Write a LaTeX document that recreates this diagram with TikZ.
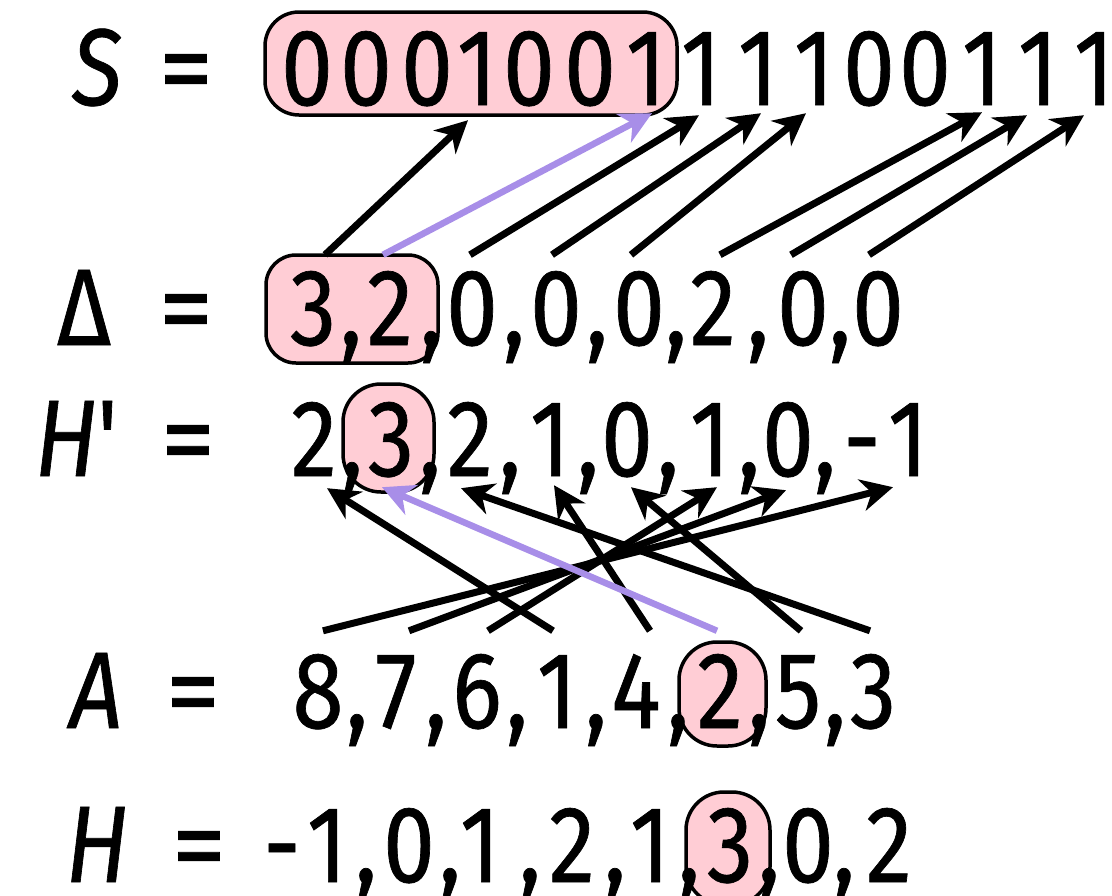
\documentclass[tikz,border=0pt]{standalone}
\usepackage{fontspec}
\setmainfont{Fira Sans}[FakeStretch=0.85,FakeBold=0.6]
\newfontfamily\eqfont{Fira Sans}[FakeBold=0.8]
\usetikzlibrary{arrows.meta,calc}
\definecolor{hlpink}{RGB}{255,205,213}
\definecolor{hlpurple}{RGB}{168,142,232}
\begin{document}
\begin{tikzpicture}[x=1pt,y=-1pt,
  dg/.style={font=\fontsize{109}{112}\selectfont, inner sep=0pt, anchor=base, text height=75pt, text depth=0pt},
  lb/.style={dg, font=\fontsize{109}{112}\selectfont\itshape},
  eqs/.style={dg, font=\fontsize{109}{112}\selectfont\eqfont},
  hibox/.style={draw=black, line width=3.5pt, fill=hlpink, rounded corners=#1, inner sep=0pt},
  hibox/.default=34pt,
  arr/.style={line width=7pt, -{Stealth[length=32pt,width=32pt,inset=10pt]}},
  parr/.style={line width=6.5pt, draw=hlpurple, -{Stealth[length=32pt,width=32pt,inset=10pt,fill=hlpurple]}}
]
\useasboundingbox (0,0) rectangle (1112,895);
\clip (0,0) rectangle (1112,895);
\fill[white] (0,0) rectangle (1112,895);

% highlight boxes
\node[hibox=34pt, minimum width=412pt, minimum height=103pt] (boxS) at (471,63.5) {};
\node[hibox=30pt, minimum width=172pt, minimum height=108pt] (boxD) at (352,309) {};
\node[hibox=38pt, minimum width=91pt, minimum height=108pt] (boxHp) at (388.5,438) {};
\node[hibox=38pt, minimum width=87pt, minimum height=104pt] (boxA) at (722.5,694) {};
\node[hibox=38pt, minimum width=84pt, minimum height=113pt] (boxH) at (728,848.5) {};

% row S
\node[lb] (lS) at (97,105) {S};
\node[eqs] (eqS) at (186,105) {=};
\foreach \n/\x/\t in {1/307/0,2/366/0,3/427/0,4/477/1,5/529/0,6/590/0,7/646/1,8/701/1,9/758/1,10/814/1,11/869/0,12/925/0,13/982/1,14/1038/1,15/1094/1}
  \node[dg] (s\n) at (\x,105) {\t};

% row Delta
\node[dg] (lD) at (84,345) {Δ};
\node[eqs] (eqD) at (186,345) {=};
\foreach \n/\x/\t in {1/313/3,2/390/2,3/472/0,4/556/0,5/639/0,6/713/2,7/803/0,8/878/0}
  \node[dg] (d\n) at (\x,345) {\t};
\foreach \n/\x in {1/351,2/431,3/514,4/597,5/676,6/758,7/840}
  \node[dg] (dc\n) at (\x,345) {,};

% row H'
\node[dg] (lHp) at (78,476) {\textit{H}\textquotesingle};
\node[eqs] (eqHp) at (188,476) {=};
\foreach \n/\x/\t in {1/314/2,2/391/3,3/470/2,4/550/1,5/627/0,6/710/1,7/788/0,8/908/1}
  \node[dg] (hp\n) at (\x,476) {\t};
\node[dg] (hpm) at (862,476) {-};
\foreach \n/\x in {1/352,2/430,3/510,4/588,5/668,6/749,7/825}
  \node[dg] (hpc\n) at (\x,476) {,};

% row A
\node[lb] (lA) at (96,728) {A};
\node[eqs] (eqA) at (193,728) {=};
\foreach \n/\x/\t in {1/318/8,2/396/7,3/477/6,4/557/1,5/636/4,6/720/2,7/798/5,8/873/3}
  \node[dg] (a\n) at (\x,728) {\t};
\foreach \n/\x in {1/357,2/436,3/517,4/596,5/678,6/759,7/835}
  \node[dg] (ac\n) at (\x,728) {,};

% row H
\node[lb] (lH) at (97,882) {H};
\node[eqs] (eqH) at (199,882) {=};
\node[dg] (hm) at (282,882) {-};
\foreach \n/\x/\t in {1/327/1,2/409/0,3/480/1,4/572/2,5/650/1,6/730/3,7/808/0,8/889/2}
  \node[dg] (h\n) at (\x,882) {\t};
\foreach \n/\x in {1/366,2/450,3/530,4/615,5/689,6/769,7/844}
  \node[dg] (hc\n) at (\x,882) {,};

% Delta -> S
\draw[arr] ([xshift=12pt,yshift=15pt]d1.north) -- ([xshift=-9pt,yshift=-15pt]s4.south);
\draw[arr] ([xshift=-2pt,yshift=15pt]d3.north) -- ([xshift=-2pt,yshift=-10pt]s8.south);
\draw[arr] ([xshift=-4pt,yshift=15pt]d4.north) -- ([xshift=3pt,yshift=-8pt]s9.south);
\draw[arr] ([xshift=-8pt,yshift=15pt]d5.north) -- ([xshift=-8pt,yshift=-8pt]s10.south);
\draw[arr] ([xshift=7pt,yshift=15pt]d6.north) -- ([xshift=0pt,yshift=-7pt]s13.south);
\draw[arr] ([xshift=-12pt,yshift=15pt]d7.north) -- ([xshift=-11pt,yshift=-10pt]s14.south);
\draw[arr] ([xshift=-9pt,yshift=15pt]d8.north) -- ([xshift=-10pt,yshift=-10pt]s15.south);
\draw[parr] ([xshift=-7pt,yshift=15pt]d2.north) -- ([xshift=6pt,yshift=-8pt]s7.south);

% A -> H'
\draw[arr] ([xshift=5pt,yshift=22pt]a1.north) -- ([xshift=-15pt,yshift=-11pt]hp8.south);
\draw[arr] ([xshift=13pt,yshift=22pt]a2.north) -- ([xshift=-2pt,yshift=-14pt]hp7.south);
\draw[arr] ([xshift=11pt,yshift=22pt]a3.north) -- ([xshift=7pt,yshift=-11pt]hp6.south);
\draw[arr] ([xshift=-4pt,yshift=22pt]a4.north) -- ([xshift=13pt,yshift=-12pt]hp1.south);
\draw[arr] ([xshift=14pt,yshift=22pt]a5.north) -- ([xshift=4pt,yshift=-9pt]hp4.south);
\draw[arr] ([xshift=3pt,yshift=22pt]a7.north) -- ([xshift=4pt,yshift=-11pt]hp5.south);
\draw[arr] ([xshift=-3pt,yshift=22pt]a8.north) -- ([xshift=-9pt,yshift=-12pt]hp3.south);
\draw[parr] ([xshift=-3pt,yshift=22pt]a6.north) -- ([xshift=-9pt,yshift=-11pt]hp2.south);
\end{tikzpicture}
\end{document}
